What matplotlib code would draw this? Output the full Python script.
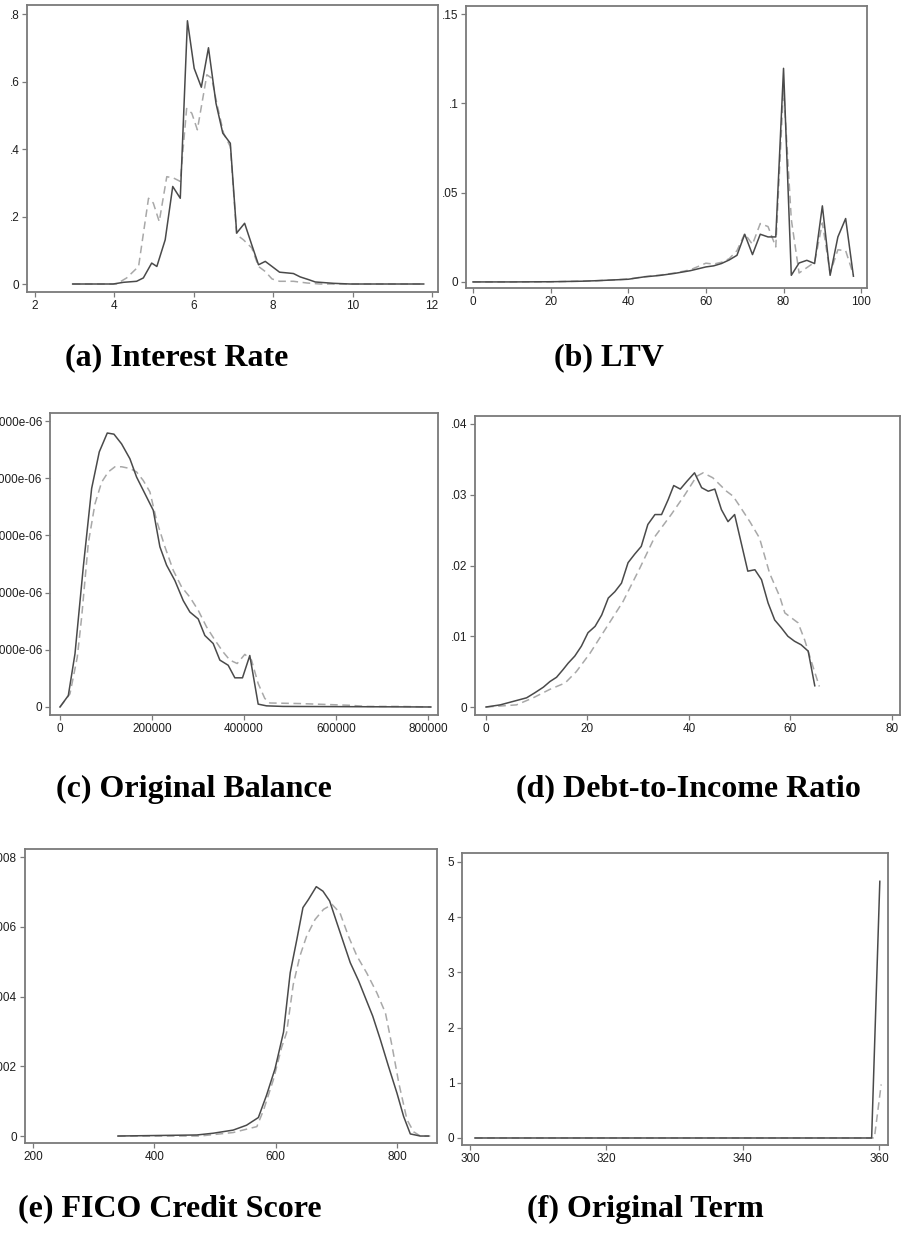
import matplotlib
matplotlib.use('Agg')
import matplotlib.pyplot as plt
import numpy as np

# (a) interest rate
rate_x = [2.95, 3.97, 4.23, 4.56, 4.73, 4.94, 5.07, 5.28, 5.47, 5.66, 5.84, 6.01, 6.19, 6.37, 6.56, 6.73,
          6.92, 7.08, 7.28, 7.46, 7.63, 7.80, 7.97, 8.16, 8.34, 8.51, 8.68, 8.89, 9.06, 9.52, 9.94, 11.79]
rate_solid = [0, 0, .005, .008, .018, .062, .052, .131, .289, .254, .78, .639, .583, .70, .535, .447,
              .417, .151, .180, .116, .057, .067, .052, .035, .033, .031, .021, .013, .006, .002, 0, 0]
rate_dx = [2.95, 4.05, 4.31, 4.61, 4.86, 4.98, 5.13, 5.32, 5.49, 5.66, 5.82, 5.95, 6.09, 6.33, 6.45, 6.58,
           6.75, 6.92, 7.08, 7.25, 7.46, 7.63, 7.80, 7.97, 8.16, 8.51, 8.85, 9.18, 11.79]
rate_dashed = [0, 0, .018, .052, .254, .24, .185, .318, .314, .304, .52, .506, .457, .62, .61, .535,
               .447, .407, .146, .131, .107, .052, .037, .015, .008, .008, .003, 0, 0]

# (b) LTV
ltv_x = [0, 10, 20, 28, 32, 36, 40, 44, 48, 52, 56, 60, 62, 64, 66, 68, 70, 72, 74, 76, 78, 80,
         82, 84, 86, 88, 90, 92, 94, 96, 98]
ltv_solid = [0, 0, .0001, .0004, .0007, .0011, .0015, .0028, .0036, .0048, .0063, .0084, .0090, .0103,
             .0123, .0149, .0267, .0153, .0267, .0252, .0252, .1196, .0037, .0106, .0121, .0103, .0426,
             .0037, .0252, .0355, .0032]
ltv_dashed = [0, 0, .0001, .0004, .0007, .0011, .0016, .0029, .0038, .0050, .0068, .0105, .0100, .0110,
              .0130, .0175, .0270, .0210, .0327, .0310, .0196, .1090, .0350, .0050, .0080, .0110, .0330,
              .0050, .0180, .0175, .0040]

# (c) original balance (density in units of 1e-6)
bal_x = [0, 18100, 32600, 50700, 68800, 85400, 102800, 117300, 133900, 152000, 166500, 184600, 202700,
         217200, 231700, 249800, 267900, 282400, 300400, 314900, 333000, 347500, 365600, 380100, 396700,
         412600, 430800, 448900, 485000, 806000]
bal_solid = [0, .20, .93, 2.45, 3.82, 4.46, 4.79, 4.77, 4.60, 4.34, 4.02, 3.73, 3.44, 2.80, 2.48, 2.21,
             1.86, 1.66, 1.54, 1.25, 1.11, .82, .73, .51, .51, .90, .05, .02, .01, 0]
bal_dx = [0, 21700, 37600, 47100, 61500, 76000, 90500, 105000, 119500, 133900, 152000, 166500, 181000,
          195500, 210000, 228100, 246200, 264300, 282400, 300500, 318600, 336700, 354800, 369200, 385200,
          401800, 416300, 430800, 445200, 456100, 521300, 593700, 629900, 666100, 738500, 807200]
bal_dashed = [0, .23, .87, 1.57, 2.86, 3.55, 3.93, 4.11, 4.20, 4.20, 4.17, 4.11, 3.96, 3.76, 3.26, 2.80,
              2.39, 2.10, 1.92, 1.69, 1.40, 1.17, .96, .82, .76, .92, .82, .41, .15, .07, .06, .04, .03,
              .01, .01, 0]

# (d) debt-to-income
dti_x = [0, 2.8, 5.4, 8.0, 9.6, 11.3, 12.6, 13.9, 15.2, 16.2, 17.5, 18.8, 20.1, 21.5, 22.8, 24.1, 25.4,
         26.7, 28.0, 29.3, 30.6, 31.9, 33.3, 34.6, 35.9, 37.0, 38.3, 39.6, 41.1, 42.5, 43.8, 45.1, 46.4,
         47.7, 49.0, 50.3, 51.6, 53.0, 54.3, 55.6, 56.9, 58.2, 59.5, 60.8, 62.1, 63.5, 64.8]
dti_solid = [0, .0003, .0008, .0013, .0020, .0028, .0036, .0042, .0053, .0062, .0072, .0086, .0105, .0114,
             .0130, .0154, .0163, .0175, .0204, .0216, .0227, .0258, .0272, .0272, .0293, .0313, .0308,
             .0319, .0331, .0310, .0305, .0308, .0279, .0262, .0272, .0232, .0192, .0194, .0180, .0147,
             .0123, .0112, .0100, .0093, .0088, .0079, .0030]
dti_dx = [0, 6.0, 9.3, 12.6, 15.6, 17.8, 20.5, 23.7, 27.0, 30.3, 33.3, 36.5, 39.2, 41.5, 42.8, 44.7, 47.4,
          48.7, 50.0, 52.0, 53.9, 55.9, 57.9, 58.9, 61.5, 62.8, 64.1, 65.7]
dti_dashed = [0, .0003, .0013, .0025, .0034, .0050, .0076, .0112, .0149, .0196, .0241, .0272, .0300,
              .0326, .0331, .0324, .0305, .0298, .0284, .0262, .0239, .0189, .0156, .0133, .0119, .0095,
              .0065, .0029]

# (e) FICO
fico_x = [340, 470, 497, 530, 552, 571.5, 585, 599, 613, 624, 635, 645, 654, 667, 678, 689, 701, 712, 723,
          737, 748, 760, 772.5, 786, 800, 811, 822, 838.5, 852]
fico_solid = [0, .00003, .00008, .00017, .00031, .00053, .00117, .00193, .00298, .00468, .00564, .00655,
              .00678, .00715, .00702, .00674, .00611, .00554, .00497, .00444, .00396, .00344, .00277,
              .00200, .00123, .00056, .00006, 0, 0]
fico_dx = [340, 475, 530, 569, 580, 596, 610, 618, 629, 640, 651, 665, 679, 693, 706, 720, 734, 750, 767,
           781, 792, 803, 816.5, 827.5, 838.5, 855]
fico_dashed = [0, 0, .0001, .00027, .00074, .0016, .00255, .00296, .00434, .00516, .00573, .00621, .0065,
               .00664, .0064, .00573, .00516, .00468, .0041, .00353, .00257, .00152, .00047, .00012, 0, 0]

# (f) original term
term_x = [300.7, 358.9, 360.1]
term_solid = [0, 0, 4.65]
term_dx = [300.7, 359.3, 360.3]
term_dashed = [0, 0, 0.97]

captions = ['(a) Interest Rate', '(b) LTV', '(c) Original Balance', '(d) Debt-to-Income Ratio',
            '(e) FICO Credit Score', '(f) Original Term']

W, H = 901, 1234
fig = plt.figure(figsize=(W / 100, H / 100), dpi=100)
fig.patch.set_facecolor('white')


def box(l, t, r, b):
    return [l / W, 1 - b / H, (r - l) / W, (b - t) / H]


SOLID = '#4a4a4a'
DASH = '#a8a8a8'
FRAME = '#7a7a7a'


def panel(rect, xs, ys, dxs, dys, xlim, ylim, xt, yt, ylabels):
    ax = fig.add_axes(box(*rect))
    ax.plot(dxs, dys, color=DASH, lw=1.1, ls=(0, (5, 3)))
    ax.plot(xs, ys, color=SOLID, lw=1.1)
    ax.set_xlim(*xlim)
    ax.set_ylim(*ylim)
    ax.set_xticks(xt)
    ax.set_xticklabels([str(v) for v in xt])
    ax.set_yticks(yt)
    ax.set_yticklabels(ylabels)
    for s in ax.spines.values():
        s.set_color(FRAME)
        s.set_linewidth(1.3)
    ax.tick_params(direction='out', length=3.5, width=0.9, color=FRAME, labelsize=8.5,
                   labelcolor='#1e1e1e', pad=2)
    for lab in ax.get_xticklabels() + ax.get_yticklabels():
        lab.set_family('Liberation Sans')
    return ax


panel((27, 5, 438, 292), rate_x, rate_solid, rate_dx, rate_dashed,
      (1.8, 12.15), (-0.0237, 0.8267), [2, 4, 6, 8, 10, 12], [0, .2, .4, .6, .8],
      ['0', '.2', '.4', '.6', '.8'])

panel((466, 6, 867, 288), ltv_x, ltv_solid, ltv_x, ltv_dashed,
      (-1.8, 101.5), (-0.0034, 0.1545), [0, 20, 40, 60, 80, 100], [0, .05, .1, .15],
      ['0', '.05', '.1', '.15'])

panel((50, 413, 438, 715), bal_x, np.array(bal_solid) * 1e-6, bal_dx, np.array(bal_dashed) * 1e-6,
      (-21700, 821700), (-0.14e-6, 5.14e-6), [0, 200000, 400000, 600000, 800000],
      [0, 1e-6, 2e-6, 3e-6, 4e-6, 5e-6],
      ['0', '1.000e-06', '2.000e-06', '3.000e-06', '4.000e-06', '5.000e-06'])

panel((475, 416, 900, 715), dti_x, dti_solid, dti_dx, dti_dashed,
      (-2.17, 81.6), (-0.00113, 0.04113), [0, 20, 40, 60, 80], [0, .01, .02, .03, .04],
      ['0', '.01', '.02', '.03', '.04'])

panel((25, 849, 437, 1143), fico_x, fico_solid, fico_dx, fico_dashed,
      (186.8, 866), (-0.0002, 0.00823), [200, 400, 600, 800], [0, .002, .004, .006, .008],
      ['0', '.002', '.004', '.006', '.008'])

panel((462, 853, 888, 1145), term_x, term_solid, term_dx, term_dashed,
      (298.8, 361.3), (-0.127, 5.163), [300, 320, 340, 360], [0, 1, 2, 3, 4, 5],
      ['0', '1', '2', '3', '4', '5'])

cap_pos = [(177, 358), (609, 358), (194, 789), (688, 789), (170, 1209), (645, 1209)]
for txt, (cx, cy) in zip(captions, cap_pos):
    fig.text(cx / W, 1 - cy / H, txt, ha='center', va='center', fontsize=23,
             fontweight='bold', family='Liberation Serif', color='black')

fig.savefig('out.png', dpi=100, facecolor='white')
